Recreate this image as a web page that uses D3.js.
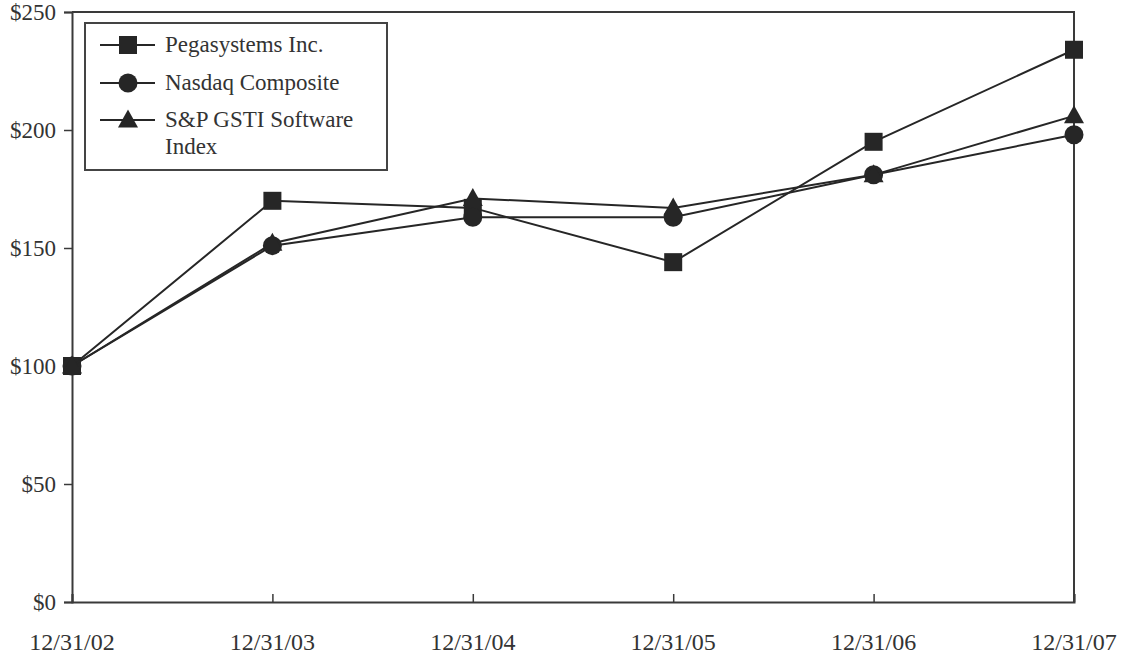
<!DOCTYPE html>
<html>
<head>
<meta charset="utf-8">
<script src="https://cdn.jsdelivr.net/npm/d3@7"></script>
<style>
  body { margin: 0; background: #fff; }
  svg { display: block; }
  text { font-family: "Liberation Serif", "Times New Roman", serif; fill: #333; }
</style>
</head>
<body>
<svg id="chart" width="1124" height="657"></svg>
<script>
// dates on the x axis
const dates = ['12/31/02', '12/31/03', '12/31/04', '12/31/05', '12/31/06', '12/31/07'];

// values (dollars)
const pegaValues = [100, 170, 167, 144, 195, 234];
const nasdaqValues = [100, 151, 163, 163, 181, 198];
const spValues = [100, 152, 171, 167, 181, 206];

const yTicks = [0, 50, 100, 150, 200, 250];

const seriesNames = ['Pegasystems Inc.', 'Nasdaq Composite', 'S&P GSTI Software Index'];
const seriesMarkers = ['square', 'circle', 'triangle'];

const ink = '#262626';

let svg = d3.select('#chart');

let x = d3.scalePoint().domain(dates).range([72, 1074]);
let y = d3.scaleLinear().domain([0, 250]).range([602, 12]);

/////Frame/////
let frame = svg.append('g').classed('frame', true);
frame.append('path')
  .attr('d', 'M' + x.range()[0] + ',' + y(250) + 'H' + x.range()[1] + 'V' + y(0))
  .attr('fill', 'none')
  .attr('stroke', '#3a3a3a')
  .attr('stroke-width', 2);

/////Y axis/////
let yAxis = svg.append('g')
  .attr('transform', 'translate(' + x.range()[0] + ',0)')
  .call(d3.axisLeft(y).tickValues(yTicks).tickSize(8).tickPadding(8).tickFormat(d => '$' + d));
yAxis.select('.domain').attr('stroke', '#3a3a3a').attr('stroke-width', 2);
yAxis.selectAll('.tick line').attr('stroke', '#3a3a3a').attr('stroke-width', 1.5);
yAxis.selectAll('.tick text')
  .attr('font-size', 23)
  .attr('font-family', '"Liberation Serif", serif')
  .attr('fill', '#333');

/////X axis (ticks point inward)/////
let xAxis = svg.append('g')
  .attr('transform', 'translate(0,' + y(0) + ')')
  .call(d3.axisBottom(x).tickSize(-8).tickPadding(0).tickFormat(''));
xAxis.select('.domain').attr('stroke', '#3a3a3a').attr('stroke-width', 2);
xAxis.selectAll('.tick line').attr('stroke', '#3a3a3a').attr('stroke-width', 1.5);

svg.append('g').selectAll('text').data(dates).enter().append('text')
  .attr('x', d => x(d))
  .attr('y', 650)
  .attr('text-anchor', 'middle')
  .attr('font-size', 24)
  .text(d => d);

/////Markers/////
function drawMarker(g, type) {
  if (type === 'square') {
    g.append('rect').attr('x', -9).attr('y', -9).attr('width', 18).attr('height', 18).attr('fill', ink);
  } else if (type === 'circle') {
    g.append('circle').attr('r', 9.5).attr('fill', ink);
  } else {
    g.append('path').attr('d', 'M0,-10.5L10,7.5L-10,7.5Z').attr('fill', ink);
  }
}

/////Lines/////
const seriesValues = [pegaValues, nasdaqValues, spValues];
let lineGen = d3.line()
  .x((d, i) => x(dates[i]))
  .y(d => y(d));

let seriesGroups = svg.append('g').selectAll('.series').data(seriesValues).enter()
  .append('g').classed('series', true);

seriesGroups.append('path')
  .attr('d', lineGen)
  .attr('fill', 'none')
  .attr('stroke', ink)
  .attr('stroke-width', 2);

seriesGroups.each(function(vals, s) {
  let g = d3.select(this);
  vals.forEach((v, i) => {
    let m = g.append('g').attr('transform', 'translate(' + x(dates[i]) + ',' + y(v) + ')');
    drawMarker(m, seriesMarkers[s]);
  });
});

/////Legend/////
let legend = svg.append('g').classed('legend', true);
legend.append('rect')
  .attr('x', 85).attr('y', 23).attr('width', 302).attr('height', 147)
  .attr('fill', '#fff')
  .attr('stroke', '#444')
  .attr('stroke-width', 2);

const legendRows = [45, 83, 120];
seriesNames.forEach((name, i) => {
  let row = legend.append('g').attr('transform', 'translate(0,' + legendRows[i] + ')');
  row.append('line').attr('x1', 100).attr('x2', 155).attr('y1', 0).attr('y2', 0)
    .attr('stroke', ink).attr('stroke-width', 2);
  drawMarker(row.append('g').attr('transform', 'translate(128,0)'), seriesMarkers[i]);
  let label = row.append('text').attr('x', 165).attr('y', 7).attr('font-size', 23);
  if (name === 'S&P GSTI Software Index') {
    label.append('tspan').attr('x', 165).text('S&P GSTI Software');
    label.append('tspan').attr('x', 165).attr('dy', 27).text('Index');
  } else {
    label.text(name);
  }
});
</script>
</body>
</html>
